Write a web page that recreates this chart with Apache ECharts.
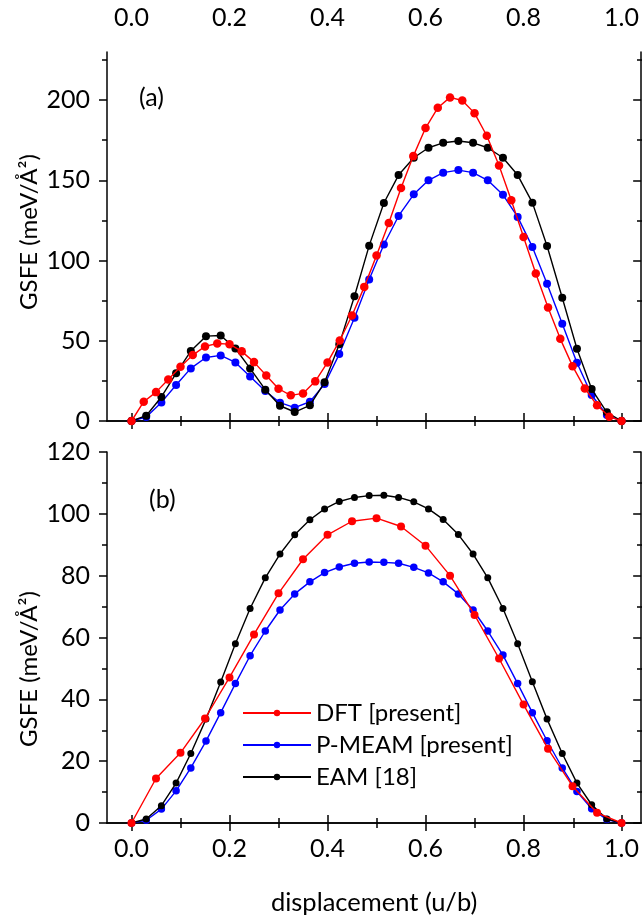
<!DOCTYPE html>
<html>
<head>
<meta charset="utf-8">
<script src="https://cdn.jsdelivr.net/npm/echarts@6/dist/echarts.min.js"></script>
<style>html,body{margin:0;padding:0;background:#fff;}#c{width:642px;height:923px;}</style>
</head>
<body>
<div id="c"></div>
<script>
// x positions
var xFine = [0, 0.030, 0.061, 0.091, 0.121, 0.152, 0.182, 0.212, 0.242, 0.273, 0.303, 0.333, 0.364, 0.394, 0.424, 0.455, 0.485, 0.515, 0.545, 0.576, 0.606, 0.636, 0.667, 0.697, 0.727, 0.758, 0.788, 0.818, 0.848, 0.879, 0.909, 0.939, 0.970, 1.0];
var xDftA = [0, 0.025, 0.05, 0.075, 0.1, 0.125, 0.15, 0.175, 0.2, 0.225, 0.25, 0.275, 0.3, 0.325, 0.35, 0.375, 0.4, 0.425, 0.45, 0.475, 0.5, 0.525, 0.55, 0.575, 0.6, 0.625, 0.65, 0.675, 0.7, 0.725, 0.75, 0.775, 0.8, 0.825, 0.85, 0.875, 0.9, 0.925, 0.95, 0.975, 1.0];
var xDftB = [0, 0.05, 0.1, 0.15, 0.2, 0.25, 0.3, 0.35, 0.4, 0.45, 0.5, 0.55, 0.6, 0.65, 0.7, 0.75, 0.8, 0.85, 0.9, 0.95, 1.0];

// panel (a)
var dftA = [0, 12, 18, 25.9, 33.8, 41.1, 46.5, 48.3, 47.9, 43.4, 36.7, 28.4, 20.1, 16, 17.2, 24.7, 36.5, 50.2, 65.8, 83.6, 103.1, 123.4, 145.2, 165.1, 182.6, 195.2, 201.7, 199.8, 191.9, 177.8, 159.3, 137.6, 114.7, 91.9, 70.7, 51.2, 34.2, 20.3, 9.8, 2.7, 0];
var meamA = [0, 2.5, 11.6, 22.4, 32.8, 39.6, 40.9, 36.5, 27.8, 18.7, 11.4, 8.3, 12, 23, 41.7, 64.3, 88.2, 110, 127.8, 141.3, 150, 154.8, 156.4, 154.8, 150, 141, 127.2, 108.5, 85.5, 60.6, 36.3, 16.2, 3.7, 0];
var eamA = [0, 3.3, 15, 29.7, 43.6, 52.9, 53.3, 45.2, 32.8, 19.5, 9.5, 5.6, 9.8, 24.1, 47.9, 77.8, 109.3, 135.9, 153.3, 164.1, 170.3, 173.4, 174.5, 173.4, 170.3, 164.1, 153.3, 136.1, 109.1, 76.8, 45, 19.9, 5.4, 0];

// panel (b)
var dftB = [0, 14.4, 22.7, 33.8, 47.1, 61, 74.3, 85.3, 93.2, 97.6, 98.6, 95.9, 89.7, 80, 67.3, 53.2, 38.3, 24, 11.9, 3.3, 0];
var meamB = [0, 0.9, 4.5, 10.4, 17.8, 26.5, 35.7, 45.1, 54.1, 62.1, 68.9, 74.1, 78, 81, 82.8, 84, 84.4, 84.3, 84, 82.7, 80.9, 78, 74.1, 68.9, 62.1, 54.3, 45.1, 35.7, 26.6, 17.8, 10.2, 4.6, 1.1, 0];
var eamB = [0, 1.3, 5.6, 12.9, 22.5, 33.6, 45.6, 58, 69.4, 79.3, 87, 93.2, 98.1, 101.6, 104, 105.3, 105.9, 106, 105.3, 103.9, 101.6, 98.2, 93.3, 87, 79.3, 69.4, 58, 45.7, 33.6, 22.5, 12.9, 5.9, 1.3, 0];

// ticks
var xMajor = [0, 0.2, 0.4, 0.6, 0.8, 1.0];
var xMinor = [0.1, 0.3, 0.5, 0.7, 0.9];
var yMajorA = [0, 50, 100, 150, 200];
var yMinorA = [25, 75, 125, 175, 225];
var yMajorB = [0, 20, 40, 60, 80, 100, 120];
var yMinorB = [10, 30, 50, 70, 90, 110];

var names = ['DFT [present]', 'P-MEAM [present]', 'EAM [18]'];
var colors = ['#ff0000', '#0000ff', '#000000'];

var FONT = 'Lato';
var FS = 25;

function pair(xs, ys) { return xs.map(function (x, i) { return [x, ys[i]]; }); }

function xAx(grid, pos, ticks, len, showLine, showLabel) {
  return {
    type: 'value', gridIndex: grid, position: pos, min: -0.05, max: 1.04,
    axisLine: { show: showLine, lineStyle: { color: '#000', width: 1.5 } },
    axisTick: { show: true, inside: false, length: len, customValues: ticks, lineStyle: { color: '#000', width: 1.5 } },
    axisLabel: { show: showLabel, customValues: ticks, color: '#000', fontFamily: FONT, fontSize: FS, margin: pos === 'top' ? 22 : 13,
      formatter: function (v) { return v.toFixed(1); } },
    splitLine: { show: false }
  };
}
function yAx(grid, pos, max, ticks, len, showLine, showLabel) {
  return {
    type: 'value', gridIndex: grid, position: pos, min: 0, max: max,
    axisLine: { show: showLine, onZero: false, lineStyle: { color: '#000', width: 1.5 } },
    axisTick: { show: true, inside: pos === 'right', length: len, customValues: ticks, lineStyle: { color: '#000', width: 1.5 } },
    axisLabel: { show: showLabel, customValues: ticks, color: '#000', fontFamily: FONT, fontSize: FS, margin: 17 },
    splitLine: { show: false }
  };
}

function line(name, color, xs, ys, xi, yi, size, z) {
  return {
    type: 'line', name: name, xAxisIndex: xi, yAxisIndex: yi, data: pair(xs, ys),
    symbol: 'circle', symbolSize: size, showSymbol: true, z: z,
    lineStyle: { color: color, width: 1.4 }, itemStyle: { color: color, borderWidth: 0 },
    emphasis: { disabled: true }, animation: false
  };
}

var chart = echarts.init(document.getElementById('c'), null, { renderer: 'canvas' });
chart.setOption({
  backgroundColor: '#fff',
  animation: false,
  grid: [
    { left: 107, top: 52, width: 535, height: 369 },
    { left: 107, top: 52, width: 535, height: 369 },
    { left: 107, top: 452, width: 535, height: 371 },
    { left: 107, top: 452, width: 535, height: 371 }
  ],
  xAxis: [
    xAx(0, 'bottom', xMajor, 8, true, false),
    xAx(0, 'top', xMajor, 8, true, true),
    xAx(1, 'bottom', xMinor, 5, false, false),
    xAx(1, 'top', xMinor, 5, false, false),
    Object.assign(xAx(2, 'bottom', xMajor, 8, true, true), {
      name: 'displacement (u/b)', nameLocation: 'middle', nameGap: 67,
      nameTextStyle: { color: '#000', fontFamily: FONT, fontSize: 25.5 }
    }),
    xAx(2, 'top', xMajor, 8, true, false),
    xAx(3, 'bottom', xMinor, 5, false, false),
    xAx(3, 'top', xMinor, 5, false, false)
  ],
  yAxis: [
    yAx(0, 'left', 230, yMajorA, 8, true, true),
    yAx(0, 'right', 230, yMajorA, 8, true, false),
    yAx(1, 'left', 230, yMinorA, 5, false, false),
    yAx(1, 'right', 230, yMinorA, 5, false, false),
    yAx(2, 'left', 120, yMajorB, 8, true, true),
    yAx(2, 'right', 120, yMajorB, 8, true, false),
    yAx(3, 'left', 120, yMinorB, 5, false, false),
    yAx(3, 'right', 120, yMinorB, 5, false, false)
  ],
  legend: {
    data: names, orient: 'vertical', left: 237, top: 696,
    itemWidth: 68, itemHeight: 8, itemGap: 8,
    textStyle: { color: '#000', fontFamily: FONT, fontSize: 24 },
    selectedMode: false
  },
  series: [
    line(names[1], colors[1], xFine, meamA, 0, 0, 8, 2),
    line(names[2], colors[2], xFine, eamA, 0, 0, 8, 3),
    line(names[0], colors[0], xDftA, dftA, 0, 0, 8.5, 4),
    line(names[1], colors[1], xFine, meamB, 4, 4, 7.5, 2),
    line(names[2], colors[2], xFine, eamB, 4, 4, 7, 3),
    line(names[0], colors[0], xDftB, dftB, 4, 4, 8, 4)
  ],
  graphic: [
    { type: 'text', left: 139, top: 85, style: { text: '(a)', fill: '#000', font: '25px ' + FONT } },
    { type: 'text', left: 149, top: 487, style: { text: '(b)', fill: '#000', font: '25px ' + FONT } },
    { type: 'text', x: 29, y: 232, rotation: Math.PI / 2, style: { text: 'GSFE (meV/Å²)', fill: '#000', font: '24px ' + FONT, textAlign: 'center', textVerticalAlign: 'middle' } },
    { type: 'text', x: 29, y: 669, rotation: Math.PI / 2, style: { text: 'GSFE (meV/Å²)', fill: '#000', font: '24px ' + FONT, textAlign: 'center', textVerticalAlign: 'middle' } }
  ]
});
</script>
</body>
</html>
